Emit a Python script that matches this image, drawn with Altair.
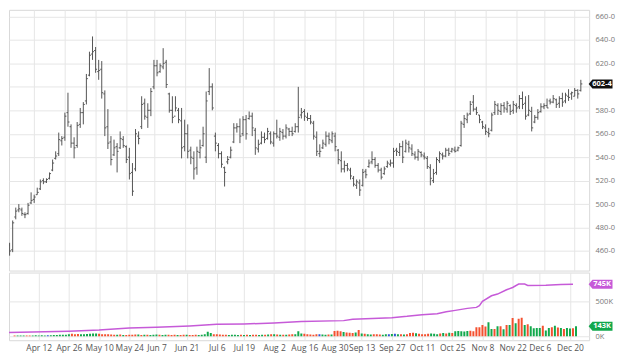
import altair as alt
import pandas as pd

# ---- daily OHLC (price in cents), index 0 = first trading day shown ----
high = [476, 477, 467, 486, 497, 500, 497, 493, 501, 510, 508, 514, 521, 522, 522, 527, 538, 545, 561, 558,
        578, 595, 568, 557, 570, 582, 587, 611, 630, 643, 634, 623, 622, 597, 581, 558, 555, 552, 562, 558,
        550, 548, 535, 564, 562, 592, 590, 586, 599, 623, 623, 620, 633, 623, 595, 592, 592, 582, 582, 572,
        568, 549, 545, 549, 555, 566, 596, 616, 603, 561, 552, 545, 532, 541, 549, 569, 569, 573, 575, 576,
        579, 578, 565, 555, 562, 561, 565, 562, 562, 572, 565, 564, 568, 565, 566, 569, 600, 582, 581, 578,
        576, 571, 562, 551, 555, 562, 561, 562, 561, 547, 545, 537, 535, 531, 524, 521, 521, 530, 530, 538,
        545, 540, 535, 531, 532, 537, 538, 548, 548, 552, 554, 555, 554, 551, 545, 547, 545, 544, 541, 534,
        530, 540, 545, 544, 548, 548, 548, 549, 549, 571, 576, 578, 588, 593, 583, 576, 571, 568, 565, 578,
        588, 586, 586, 587, 588, 585, 588, 586, 593, 596, 592, 593, 583, 576, 581, 586, 586, 590, 590, 593,
        590, 592, 595, 595, 598, 596, 599, 598, 606]
low = [471, 463, 456, 459, 487, 493, 490, 488, 491, 500, 501, 508, 512, 517, 518, 521, 528, 538, 541, 550,
       554, 566, 548, 539, 548, 565, 568, 585, 609, 623, 612, 606, 590, 558, 547, 533, 541, 527, 547, 548,
       535, 521, 507, 528, 551, 564, 572, 565, 575, 598, 609, 612, 615, 599, 578, 569, 579, 569, 539, 545,
       539, 534, 521, 525, 539, 549, 535, 593, 580, 545, 539, 531, 515, 534, 539, 552, 561, 552, 558, 555,
       572, 558, 542, 544, 551, 552, 555, 551, 549, 556, 554, 555, 556, 558, 558, 561, 561, 573, 571, 571,
       568, 555, 541, 540, 547, 549, 551, 552, 545, 534, 527, 527, 528, 521, 515, 513, 507, 515, 522, 531,
       534, 531, 527, 521, 525, 531, 532, 531, 541, 541, 535, 544, 544, 541, 538, 537, 540, 538, 530, 516,
       518, 525, 535, 538, 540, 541, 544, 544, 545, 549, 565, 569, 576, 579, 576, 569, 564, 559, 557, 562,
       576, 576, 576, 578, 578, 576, 577, 578, 581, 581, 572, 575, 562, 569, 572, 578, 581, 582, 585, 586,
       582, 582, 583, 586, 588, 589, 592, 590, 596]
open_ = [475, 472, 465, 461, 489, 495, 495, 491, 492, 501, 504, 508, 513, 520, 519, 522, 529, 539, 543, 554,
         557, 578, 566, 552, 550, 568, 578, 588, 610, 628, 631, 613, 615, 594, 566, 553, 542, 549, 548, 555,
         549, 540, 527, 530, 558, 566, 586, 574, 580, 600, 618, 613, 617, 621, 594, 580, 575, 580, 571, 549,
         560, 546, 539, 531, 544, 550, 540, 596, 600, 558, 550, 543, 531, 536, 540, 553, 565, 566, 560, 572,
         573, 575, 563, 547, 552, 557, 556, 560, 552, 560, 557, 561, 558, 564, 562, 562, 566, 576, 579, 574,
         573, 569, 557, 543, 548, 551, 558, 554, 558, 546, 537, 530, 533, 529, 522, 516, 518, 516, 528, 532,
         536, 538, 533, 529, 526, 532, 534, 535, 546, 544, 549, 545, 551, 547, 542, 540, 544, 541, 539, 531,
         520, 527, 537, 542, 541, 546, 545, 546, 546, 550, 568, 572, 577, 587, 581, 576, 570, 565, 561, 563,
         578, 584, 579, 584, 581, 584, 580, 584, 583, 590, 586, 576, 579, 570, 574, 579, 583, 584, 588, 587,
         589, 586, 590, 588, 592, 594, 592, 597, 597]
close = [473, 465, 460, 484, 494, 496, 492, 491, 499, 503, 506, 510, 519, 519, 521, 526, 535, 541, 555, 556,
         575, 570, 552, 548, 567, 578, 585, 607, 627, 630, 615, 614, 595, 565, 552, 538, 548, 545, 556, 550,
         538, 526, 511, 560, 556, 585, 575, 580, 596, 618, 612, 618, 620, 602, 580, 574, 582, 572, 548, 560,
         545, 540, 530, 545, 548, 560, 588, 600, 582, 552, 543, 534, 527, 538, 546, 565, 566, 558, 572, 560,
         575, 565, 548, 551, 557, 555, 562, 553, 560, 558, 562, 558, 565, 562, 560, 566, 574, 578, 575, 573,
         570, 558, 545, 545, 552, 558, 555, 560, 549, 538, 530, 533, 530, 524, 517, 519, 512, 527, 525, 535,
         538, 533, 529, 523, 530, 535, 535, 545, 545, 549, 540, 552, 548, 543, 540, 545, 542, 540, 532, 522,
         526, 538, 543, 541, 546, 543, 547, 545, 548, 569, 573, 576, 585, 581, 578, 572, 566, 562, 560, 576,
         585, 580, 584, 582, 586, 579, 585, 582, 590, 585, 575, 580, 565, 574, 578, 583, 584, 582, 587, 590,
         585, 590, 587, 593, 591, 595, 597, 594, 602.5]

# ---- daily volume (thousands of contracts) ----
volume_k = [8, 10, 9, 12, 10, 9, 11, 10, 12, 13, 12, 14, 12, 15, 13, 16, 18, 20, 22, 20,
            28, 35, 30, 32, 28, 30, 33, 35, 38, 40, 36, 30, 28, 30, 25, 22, 20, 24, 18, 16,
            20, 22, 24, 25, 18, 20, 22, 18, 20, 25, 22, 18, 20, 22, 18, 20, 18, 16, 20, 22,
            18, 16, 20, 18, 22, 30, 65, 45, 30, 28, 25, 20, 22, 18, 20, 22, 18, 20, 18, 20,
            18, 22, 20, 18, 20, 22, 25, 30, 28, 25, 22, 20, 22, 25, 30, 28, 70, 40, 35, 30,
            25, 22, 28, 30, 25, 22, 24, 26, 75, 80, 72, 60, 55, 50, 45, 55, 90, 40, 35, 30,
            25, 28, 30, 25, 22, 28, 30, 32, 35, 30, 28, 25, 30, 45, 50, 42, 35, 30, 28, 35,
            40, 35, 30, 38, 45, 40, 50, 45, 70, 75, 72, 68, 75, 80, 70, 129, 129, 162, 138, 200,
            105, 105, 143, 143, 100, 162, 162, 262, 186, 252, 267, 162, 171, 143, 114, 119, 119, 152, 81, 119,
            129, 152, 124, 119, 105, 120, 110, 115, 143]

# ---- open interest (thousands), read at a few days ----
oi_idx = [0, 20, 30, 40, 49, 60, 69, 78, 88, 97, 111, 114, 127, 132, 137, 142, 145, 148, 152, 155,
          156, 157, 160, 162, 165, 167, 169, 171, 172, 178, 183, 187]
oi_k = [52, 71, 90, 119, 129, 148, 171, 176, 190, 210, 224, 243, 267, 286, 310, 324, 352, 371, 400, 414,
        438, 500, 581, 605, 667, 700, 748, 748, 729, 733, 743, 745]

# ---- date axis labels (Mar 29 falls on the clipped left edge) ----
tick_idx = [10, 20, 30, 40, 49, 59, 69, 78, 88, 98, 108, 117, 127, 137, 147, 157, 167, 176, 186]
tick_lbl = ["Apr 12", "Apr 26", "May 10", "May 24", "Jun 7", "Jun 21", "Jul 6", "Jul 19",
            "Aug 2", "Aug 16", "Aug 30", "Sep 13", "Sep 27", "Oct 11", "Oct 25", "Nov 8", "Nov 22",
            "Dec 6", "Dec 20"]

FONT = "Open Sans"
GRID = "#e6e6e6"
BAR = "#555555"
RED = "#f4502f"
GREEN = "#12a84c"
BLUE = "#2f56d6"
PURPLE = "#c65ad8"

n = len(high)
chg = ["up"] + ["up" if close[k] > close[k - 1] else ("down" if close[k] < close[k - 1] else "flat")
                for k in range(1, n)]
df = pd.DataFrame({"i": list(range(n)), "high": high, "low": low, "open": open_, "close": close,
                   "vol": volume_k, "chg": chg})
oi_df = pd.DataFrame({"i": oi_idx, "oi": oi_k})


def eighths(p):
    w = int(p)
    return f"{w}-{int(round((p - w) * 8))}"


last = n - 1
price_tag = pd.DataFrame({"y": [close[last]], "t": [eighths(close[last])]})
oi_tag = pd.DataFrame({"y": [oi_k[-1]], "t": [f"{oi_k[-1]}K"]})
vol_tag = pd.DataFrame({"y": [volume_k[last]], "t": [f"{volume_k[last]}K"]})

W = 583
H_TOP = 262
H_VOL = 68
X0 = 1.8
xs = alt.Scale(domain=[X0, 190.7], nice=False, zero=False)
label_expr = "[" + ",".join(f"'{s}'" for s in tick_lbl) + "][indexof([" + ",".join(
    str(v) for v in tick_idx) + "], datum.value)]"

x_top = alt.X("i:Q", scale=xs, axis=alt.Axis(values=tick_idx, tickCount=60, labels=False, ticks=False,
                                              domain=False, grid=True, gridColor=GRID, title=None))
x_bot = alt.X("i:Q", scale=xs, axis=alt.Axis(values=tick_idx, tickCount=60, labelExpr=label_expr,
                                              ticks=False, domain=False, grid=True, gridColor=GRID,
                                              title=None, labelFontSize=8.5, labelColor="#555",
                                              labelPadding=3, labelFont=FONT, labelFlush=False,
                                              labelOverlap=False))

# the 600 label sits under the last-price tag, as in the original
py = alt.Scale(domain=[443.3, 665.7], nice=False, zero=False)
y_price = alt.Y("low:Q", scale=py, axis=alt.Axis(orient="right", values=list(range(460, 661, 20)),
                                                 tickCount=30,
                                                 labelExpr="datum.value == 600 ? '' : datum.value + '-0'",
                                                 ticks=False, domain=False, grid=True, gridColor=GRID,
                                                 title=None, labelFontSize=7.5, labelColor="#777",
                                                 labelPadding=6, labelFont=FONT))

base = alt.Chart(df).transform_filter("datum.i >= 2")
hl = base.mark_rule(color=BAR, strokeWidth=1, clip=True).encode(x=x_top, y=y_price, y2="high:Q")
op = base.mark_rule(color=BAR, strokeWidth=1, clip=True, xOffset=-1.5, x2Offset=0).encode(
    x="i:Q", x2="i:Q", y=alt.Y("open:Q", scale=py))
cl = base.mark_rule(color=BAR, strokeWidth=1, clip=True, xOffset=0, x2Offset=1.5).encode(
    x="i:Q", x2="i:Q", y=alt.Y("close:Q", scale=py))

TAG = "M -1 0 L -0.68 -0.38 L 1 -0.38 L 1 0.38 L -0.68 0.38 Z"
TX = W + 11.5
ptag = alt.Chart(price_tag).mark_point(shape=TAG, size=576, filled=True, color="#111", opacity=1).encode(
    x=alt.value(TX), y=alt.Y("y:Q", scale=py))
ptxt = alt.Chart(price_tag).mark_text(color="white", fontSize=7.5, fontWeight="bold", font=FONT).encode(
    x=alt.value(TX + 1.5), y=alt.Y("y:Q", scale=py), text="t:N")

top = alt.layer(hl, op, cl, ptag, ptxt).properties(width=W, height=H_TOP)

vy = alt.Scale(domain=[-57, 914], nice=False, zero=False)
y_vol = alt.Y("vol:Q", scale=vy, axis=alt.Axis(orient="right", values=[0, 500], tickCount=10,
                                               labelExpr="datum.value + 'K'", ticks=False, domain=False,
                                               grid=True, gridColor=GRID, title=None, labelFontSize=7.5,
                                               labelColor="#777", labelPadding=6, labelFont=FONT))
vbars = base.mark_bar(width=2, clip=True).encode(
    x=x_bot, y=y_vol, y2=alt.datum(0),
    color=alt.Color("chg:N", scale=alt.Scale(domain=["up", "down", "flat"], range=[GREEN, RED, BLUE]),
                    legend=None))
oil = alt.Chart(oi_df).mark_line(color=PURPLE, strokeWidth=1.5, clip=True).encode(
    x="i:Q", y=alt.Y("oi:Q", scale=vy))
otag = alt.Chart(oi_tag).mark_point(shape=TAG, size=576, filled=True, color=PURPLE, opacity=1).encode(
    x=alt.value(TX), y=alt.Y("y:Q", scale=vy))
otxt = alt.Chart(oi_tag).mark_text(color="white", fontSize=7.5, fontWeight="bold", font=FONT).encode(
    x=alt.value(TX + 1.5), y=alt.Y("y:Q", scale=vy), text="t:N")
vtag = alt.Chart(vol_tag).mark_point(shape=TAG, size=576, filled=True, color=GREEN, opacity=1).encode(
    x=alt.value(TX), y=alt.Y("y:Q", scale=vy))
vtxt = alt.Chart(vol_tag).mark_text(color="white", fontSize=7.5, fontWeight="bold", font=FONT).encode(
    x=alt.value(TX + 1.5), y=alt.Y("y:Q", scale=vy), text="t:N")

bottom = alt.layer(vbars, oil, otag, otxt, vtag, vtxt).properties(width=W, height=H_VOL)

chart = alt.vconcat(top, bottom, spacing=0).properties(
    padding={"left": 0, "top": 0, "right": 0, "bottom": 0}
).configure(background="white", padding=0).configure_view(stroke="#d9d9d9", strokeWidth=1)

chart.save("out.html", embed_options={"renderer": "svg", "actions": False})
